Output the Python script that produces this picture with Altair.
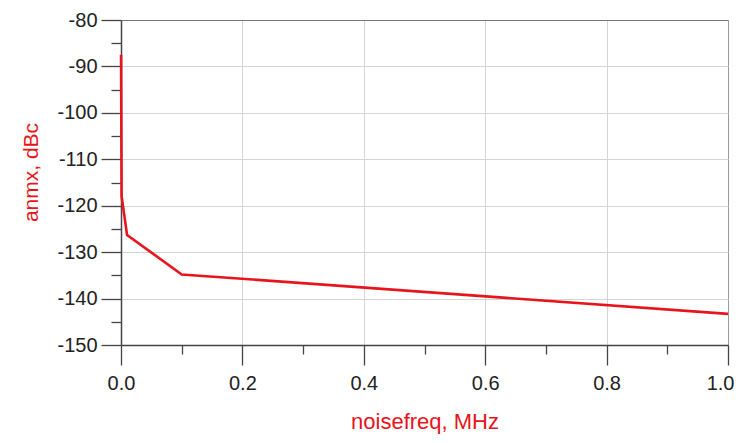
import altair as alt
import pandas as pd

# Data
noisefreq_mhz = [0.0001, 0.001, 0.01, 0.1, 1.0]
anmx_dbc = [-87.5, -118.0, -126.3, -134.8, -143.3]

x_ticks = [0.0, 0.1, 0.2, 0.3, 0.4, 0.5, 0.6, 0.7, 0.8, 0.9, 1.0]
y_ticks = [-150, -145, -140, -135, -130, -125, -120, -115, -110, -105,
           -100, -95, -90, -85, -80]

df = pd.DataFrame({"noisefreq": noisefreq_mhz, "anmx": anmx_dbc})

RED = "#e8141b"
AXIS = "#444444"
GRID = "#d4d4d4"
FONT = "Liberation Sans"

x_major = "round(datum.value*10) % 2 == 0"
y_major = "datum.value % 10 == 0"
x_last = "datum.value == 1"

chart = alt.Chart(df).mark_line(color=RED, strokeWidth=2.6).encode(
    x=alt.X(
        "noisefreq:Q",
        scale=alt.Scale(domain=[0, 1], nice=False, zero=False),
        axis=alt.Axis(
            values=x_ticks,
            title="noisefreq, MHz",
            labelExpr="round(datum.value*10) % 2 == 0 ? format(datum.value, '.1f') : ''",
            labelFont=FONT, labelFontSize=20, labelColor="#222222",
            labelPadding=8, labelFlush=False, labelOverlap=False,
            labelAlign={"condition": {"test": x_last, "value": "right"}, "value": "center"},
            labelOffset={"condition": {"test": x_last, "value": 6}, "value": 0},
            tickColor=AXIS, tickWidth=1.3,
            tickSize={"condition": {"test": x_major, "value": 20}, "value": 9},
            gridColor={"condition": {"test": x_last, "value": "#9a9a9a"}, "value": GRID},
            gridWidth=1,
            gridOpacity={"condition": {"test": x_major, "value": 1}, "value": 0},
            domainColor=AXIS, domainWidth=1.5,
            titleFont=FONT, titleFontSize=22, titleFontWeight="normal",
            titleColor=RED, titleY=83, titleBaseline="alphabetic",
        ),
    ),
    y=alt.Y(
        "anmx:Q",
        scale=alt.Scale(domain=[-150, -80], nice=False, zero=False),
        axis=alt.Axis(
            values=y_ticks,
            title="anmx, dBc",
            labelExpr="datum.value % 10 == 0 ? toString(datum.value) : ''",
            labelFont=FONT, labelFontSize=20, labelColor="#222222",
            labelPadding=4, labelOverlap=False,
            tickColor=AXIS, tickWidth=1.3,
            tickSize={"condition": {"test": y_major, "value": 20}, "value": 10},
            gridColor={"condition": {"test": "datum.value == -80", "value": "#777777"}, "value": GRID},
            gridWidth=1,
            gridOpacity={"condition": {"test": y_major, "value": 1}, "value": 0},
            domainColor=AXIS, domainWidth=1.5,
            titleFont=FONT, titleFontSize=21, titleFontWeight="normal",
            titleColor=RED, titleX=-90, titleY=152, titleAngle=270,
            titleAlign="center", titleBaseline="middle",
        ),
    ),
).properties(
    width=607,
    height=325,
    padding={"left": 113, "top": 12, "right": 6, "bottom": 90},
    autosize=alt.AutoSizeParams(type="none"),
).configure_view(
    stroke=None
).configure(background="white")

chart.save("out.html", embed_options={"renderer": "svg", "actions": False})
